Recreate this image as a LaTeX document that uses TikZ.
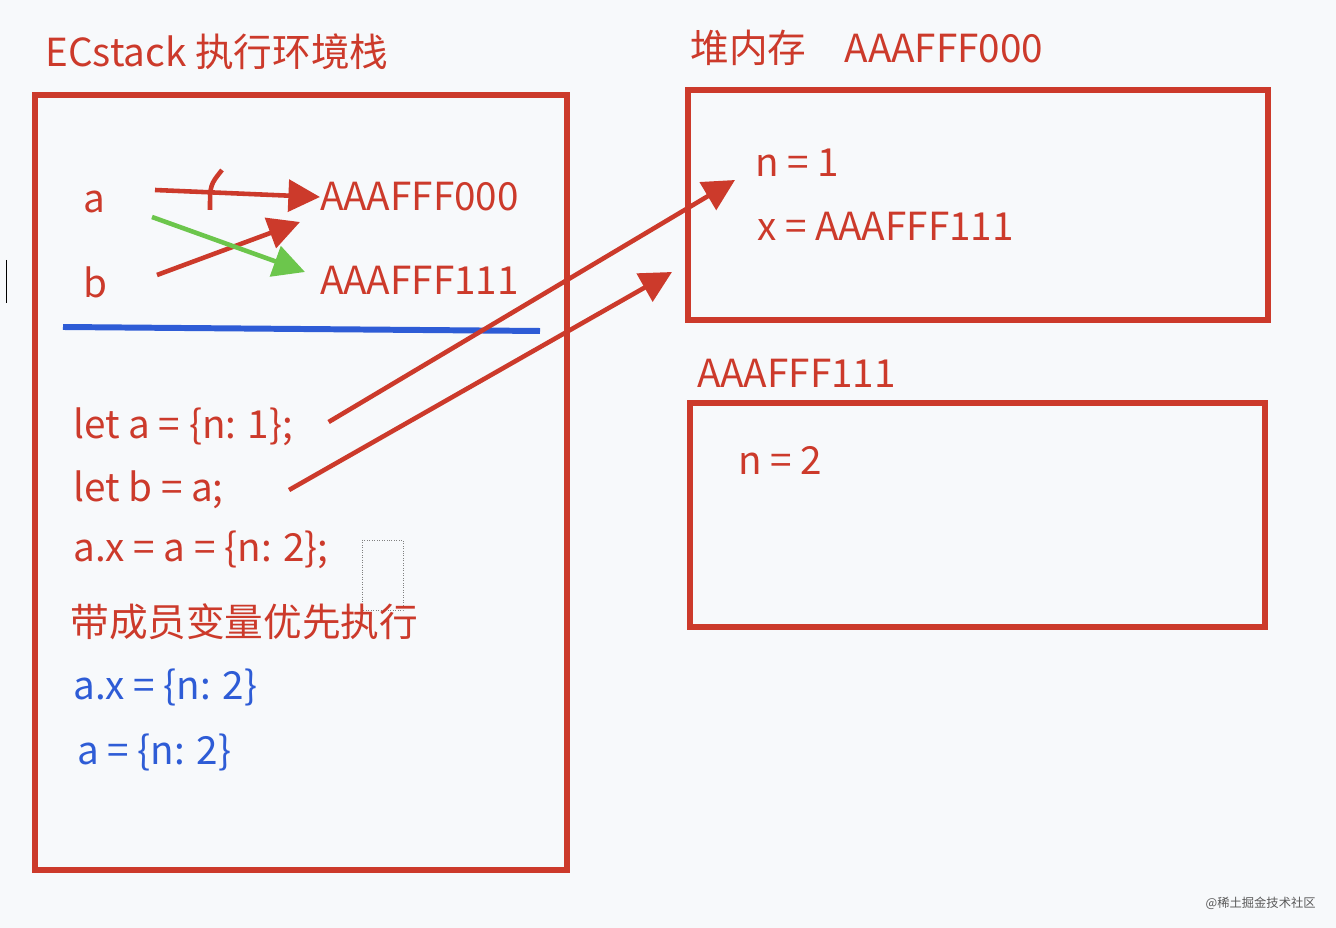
\documentclass[tikz,border=0pt]{standalone}
\usepackage{fontspec}
\setmainfont{Noto Sans CJK SC}
\usetikzlibrary{arrows.meta}
\definecolor{bgc}{HTML}{F7F9FB}
\definecolor{redc}{HTML}{CC3A2B}
\definecolor{bluec}{HTML}{2E5CD6}
\definecolor{greenc}{HTML}{6CC64C}
\tikzset{
  txt/.style={anchor=west,inner sep=0pt,text=redc,font=\fontsize{22}{26}\selectfont},
  btxt/.style={txt,text=bluec},
  frame/.style={draw=redc,line width=3.4pt},
  arr/.style={-{Triangle[length=18pt,width=18pt]},line width=2.6pt,draw=redc},
}
\begin{document}
\begin{tikzpicture}[x=0.02cm,y=-0.02cm]
		\fill[bgc] (0,0) rectangle (1336,928);
		\useasboundingbox (0,0) rectangle (1336,928);
		% stack
		\node[txt] (title) at (45,52) {ECstack 执行环境栈};
		\draw[frame] (35,95) rectangle (567,870);
		\node[txt] (a) at (83,202) {a};
		\node[txt] (b) at (83,282) {b};
		\node[txt] (h0) at (320,197) {AAAFFF000};
		\node[txt] (h1) at (320,280) {AAAFFF111};
		\coordinate (a0) at (155,190);
		\coordinate (b0) at (157,275);
		\coordinate (g0) at (152,217);
		\draw[arr] (a0) -- (h0.west);
		\draw[arr] (b0) -- (300,222);
		\draw[arr,draw=greenc] (g0) -- (305,272);
		\draw[redc,line width=2.6pt] (222,170) .. controls (210,185) .. (210,210);
		\draw[bluec,line width=3.4pt] (63,327) -- (540,331);
		\node[txt] (l1) at (73,427) {let a = \{n: 1\};};
		\node[txt] (l2) at (73,490) {let b = a;};
		\node[txt] (l3) at (73,550) {a.x = a = \{n: 2\};};
		\draw[gray,densely dotted,thin] (362,540) rectangle (403,610);
		\node[txt] (l4) at (70,622) {带成员变量优先执行};
		\node[btxt] (l5) at (73,687) {a.x = \{n: 2\}};
		\node[btxt] (l6) at (77,752) {a = \{n: 2\}};
		% heap
		\node[txt] (title2) at (690,48) {堆内存\quad AAAFFF000};
		\draw[frame] (688,90) rectangle (1268,320);
		\node[txt] (n1) at (755,163) {n = 1};
		\node[txt] (x1) at (757,226) {x = AAAFFF111};
		\node[txt] (title3) at (697,373) {AAAFFF111};
		\draw[frame] (690,403) rectangle (1265,627);
		\node[txt] (n2) at (738,460) {n = 2};
		\draw[arr] (l1.east)++(35,-5) -- (735,180);
		\draw[arr] (l2.east)++(65,0) -- (672,272);
		% misc
		\draw[black,thin] (6,260) -- (6,303);
		\node[anchor=east,inner sep=0pt,text=gray!70!black,font=\fontsize{7}{8}\selectfont] (wm) at (1316,903) {@稀土掘金技术社区};
\end{tikzpicture}
\end{document}
